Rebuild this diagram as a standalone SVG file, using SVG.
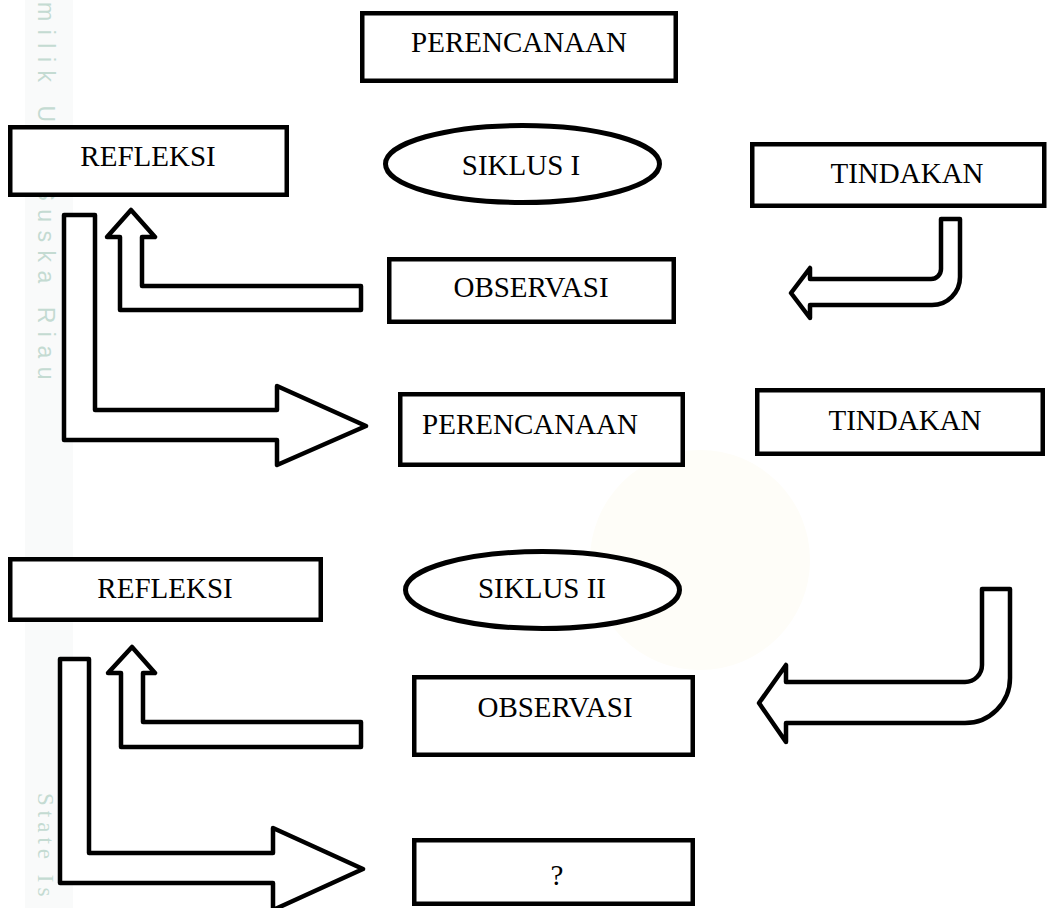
<svg xmlns="http://www.w3.org/2000/svg" width="1053" height="908" viewBox="0 0 1053 908">
<style>
.box{fill:#fff;stroke:#000;stroke-width:4.5}
.ell{fill:#fff;stroke:#000;stroke-width:5}
.lbl{font-family:"Liberation Serif","Times New Roman",serif;font-size:29px;fill:#000;text-anchor:middle}
.arr{fill:#fff;stroke:#000;stroke-width:4.5;stroke-linejoin:round}
.wm{fill:#c4dbd2}
</style>
<rect width="1053" height="908" fill="#fff"/>
<g id="watermark">
<rect x="25" y="0" width="48" height="908" fill="#f9fafa"/>
<circle cx="700" cy="560" r="110" fill="#fefdf8"/>
<text class="wm" transform="translate(38,2) rotate(90)" font-family="Liberation Sans, Arial, sans-serif" font-size="23" letter-spacing="8.5">milik UIN Suska Riau</text>
<text class="wm" transform="translate(38,793) rotate(90)" font-family="Liberation Serif, serif" font-size="23" letter-spacing="5">State Is</text>
</g>
<g id="connectors">
<path class="arr" d="M941 219 H960 V277 A28 28 0 0 1 932 305 H810 V318 L791 293 L810 268 V279 H931 A10 10 0 0 0 941 269 Z"/>
<path class="arr" d="M982 589 H1010 V678 A45 45 0 0 1 965 723 H786 V742 L759 703 L786 665 V682 H965 A17 17 0 0 0 982 665 Z"/>
<path class="arr" d="M131 210 L155 237 H142 V286 H361 V310 H120 V237 H107 Z"/>
<path class="arr" d="M64 215 H95 V410 H277 V386 L366 426 L277 465 V440 H64 Z"/>
<path class="arr" d="M132 647 L155 673 H143 V722 H361 V747 H121 V673 H108 Z"/>
<path class="arr" d="M60 659 H89 V853 H273 V828 L363 869 L273 910 V883 H60 Z"/>
</g>
<g id="perencanaan1"><rect class="box" x="362.25" y="13.25" width="313.5" height="67.5"/><text class="lbl" x="519" y="52">PERENCANAAN</text></g>
<g id="siklus1"><ellipse class="ell" cx="522.5" cy="164" rx="137" ry="38.5"/><text class="lbl" x="521" y="175">SIKLUS I</text></g>
<g id="refleksi1"><rect class="box" x="10.25" y="127.25" width="276.5" height="67.5"/><text class="lbl" x="148" y="166">REFLEKSI</text></g>
<g id="tindakan1"><rect class="box" x="752.25" y="144.25" width="292" height="61.5"/><text class="lbl" x="907" y="183">TINDAKAN</text></g>
<g id="observasi1"><rect class="box" x="389.25" y="259.25" width="284.5" height="62.5"/><text class="lbl" x="531" y="297">OBSERVASI</text></g>
<g id="perencanaan2"><rect class="box" x="400.25" y="394.25" width="282.5" height="70.5"/><text class="lbl" x="530" y="434">PERENCANAAN</text></g>
<g id="tindakan2"><rect class="box" x="757.25" y="390.25" width="285.5" height="63.5"/><text class="lbl" x="905" y="430">TINDAKAN</text></g>
<g id="refleksi2"><rect class="box" x="10.25" y="559.25" width="310.5" height="60.5"/><text class="lbl" x="165" y="598">REFLEKSI</text></g>
<g id="siklus2"><ellipse class="ell" cx="542.5" cy="590" rx="137" ry="38.5"/><text class="lbl" x="542" y="598">SIKLUS II</text></g>
<g id="observasi2"><rect class="box" x="414.25" y="677.25" width="278.5" height="77.5"/><text class="lbl" x="555" y="717">OBSERVASI</text></g>
<g id="question"><rect class="box" x="414.25" y="840.25" width="278.5" height="63.5"/><text class="lbl" x="557" y="885">?</text></g>
</svg>
